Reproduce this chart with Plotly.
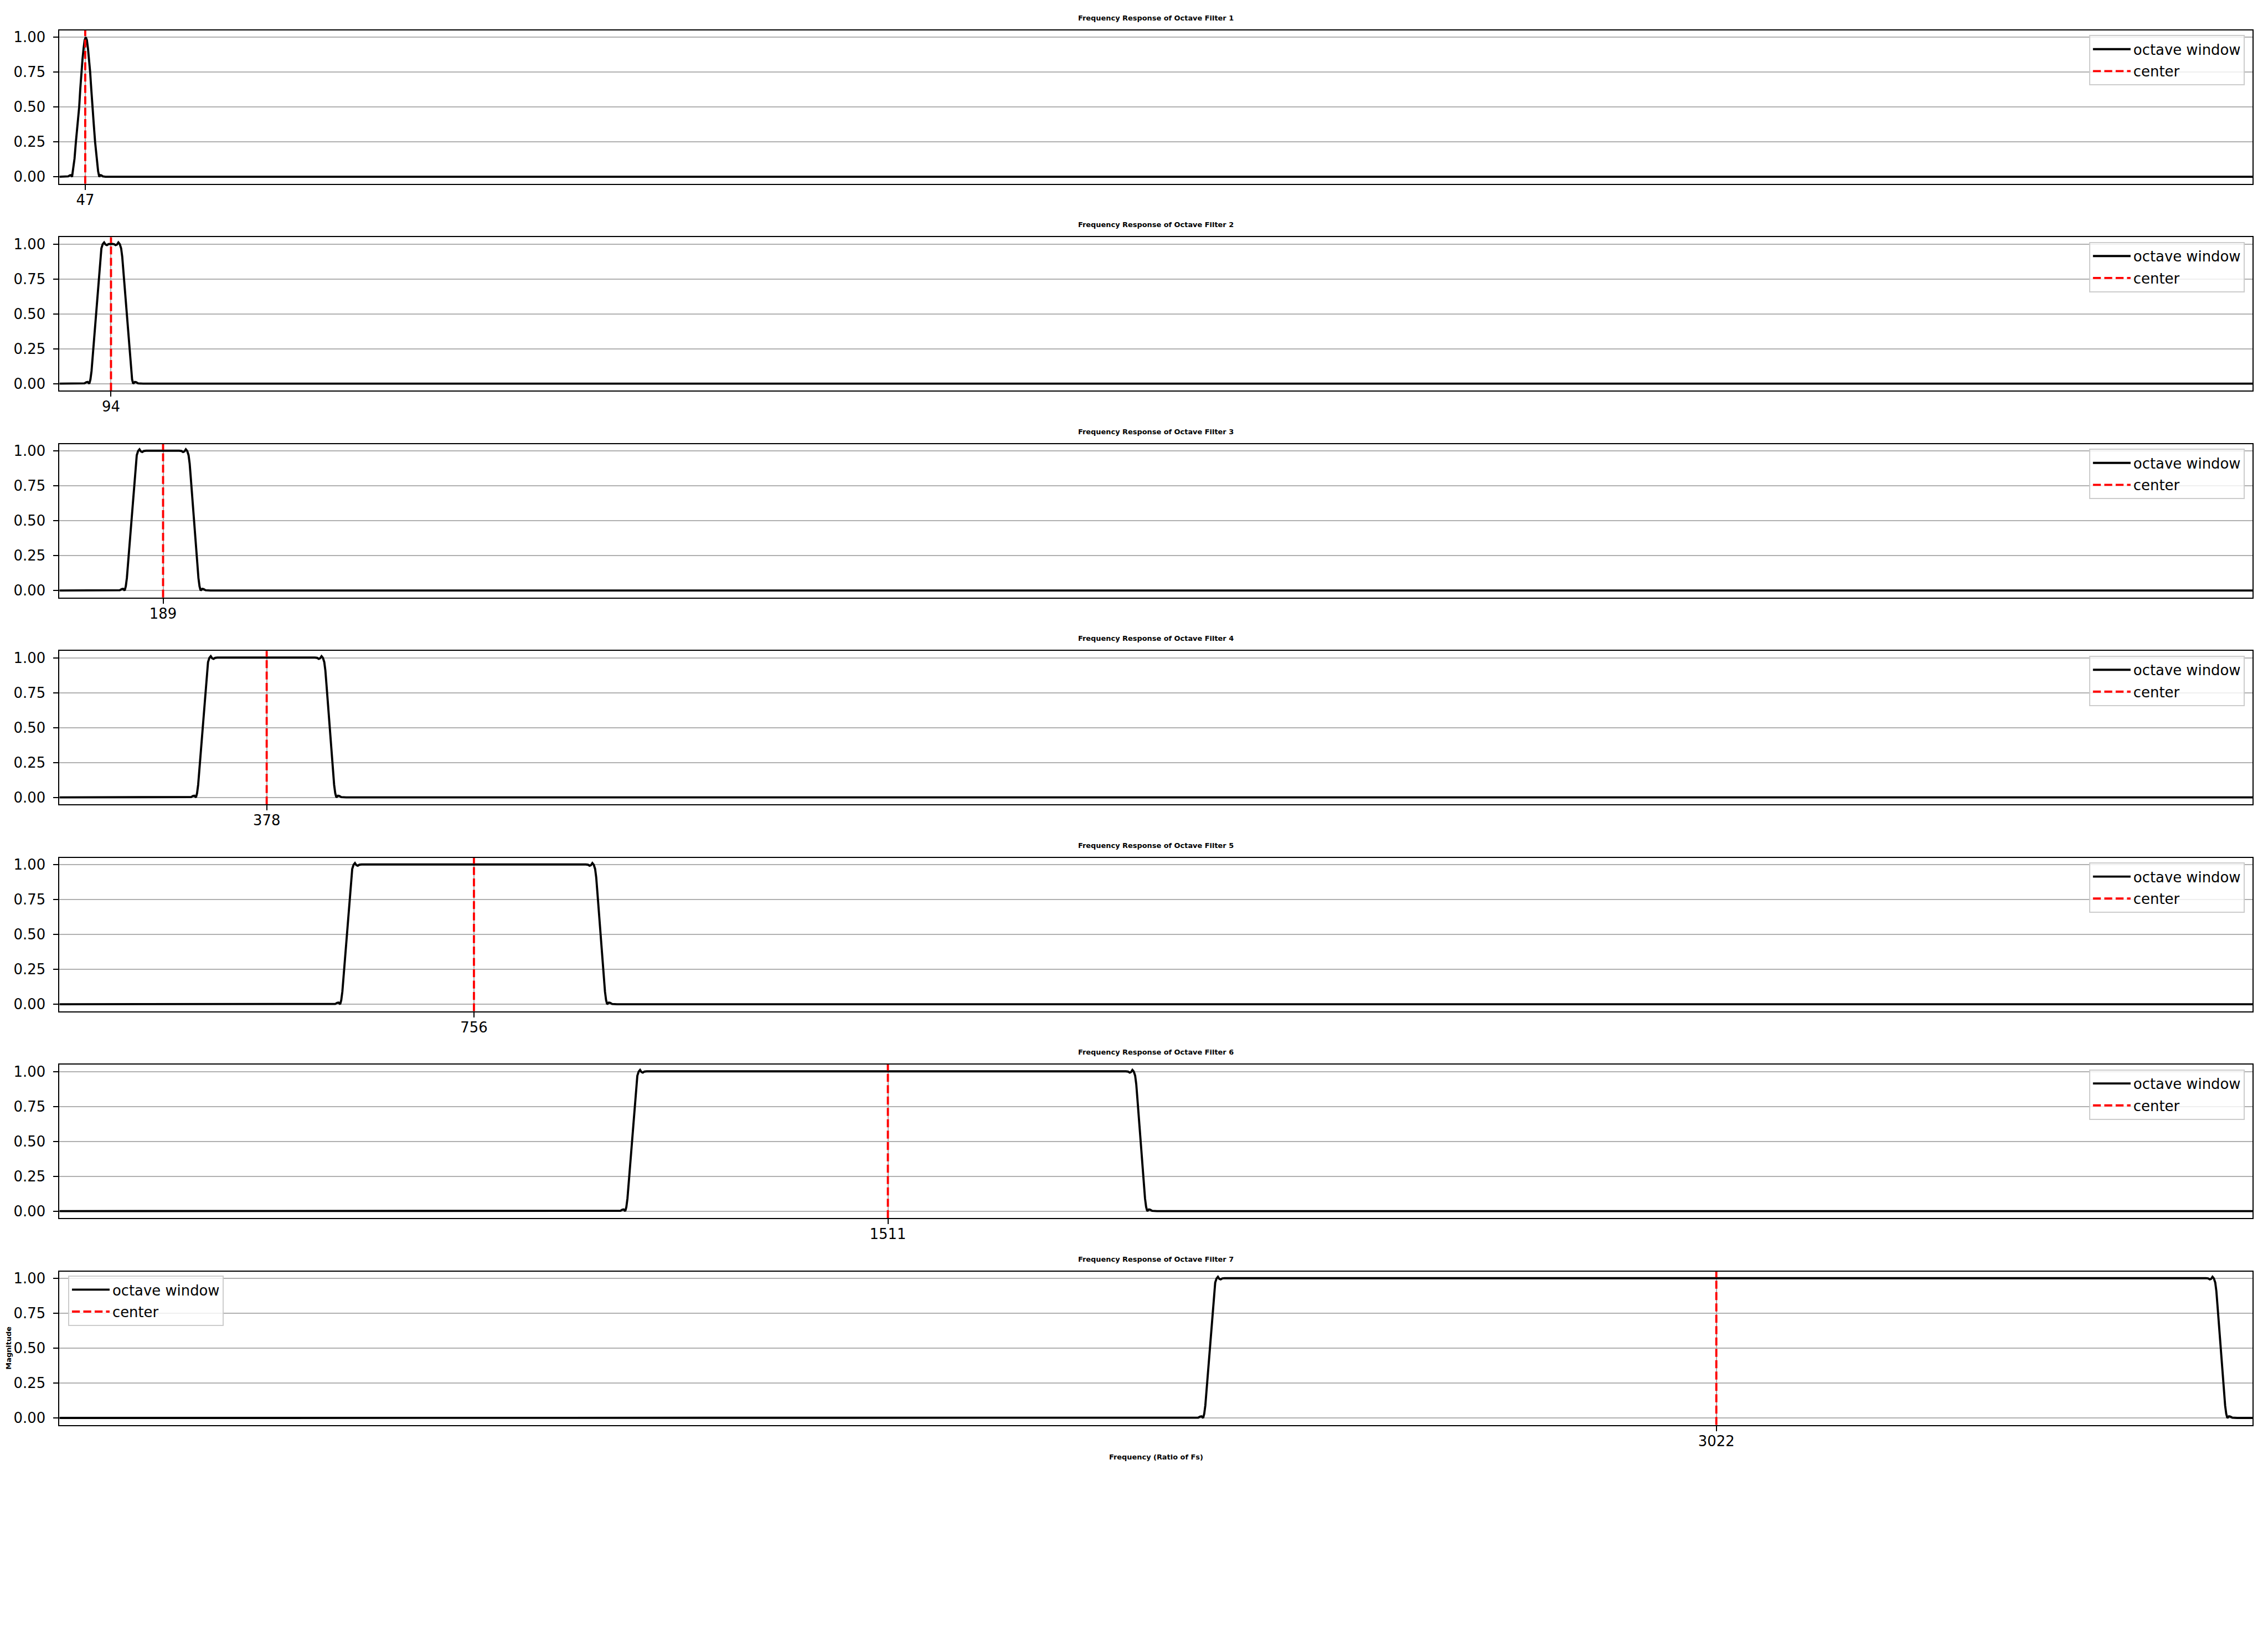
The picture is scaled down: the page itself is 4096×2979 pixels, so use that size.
import plotly.graph_objects as go

# ---------------- data ----------------
CENTERS = [47, 94, 189, 378, 756, 1511, 3022]
TICK_LABELS = ["47", "94", "189", "378", "756", "1511", "3022"]
TITLES = ["Frequency Response of Octave Filter %d" % i for i in range(1, 8)]
X_MAX = 4000

# filter 1 is a single narrow hump: explicit points
F1_X = [0, 12, 16, 19, 21, 23, 25, 27.5, 30, 33, 36, 38, 40, 42, 44, 46, 48,
        50, 52, 54, 56, 58, 60, 62.5, 65, 68, 70.5, 72.6, 74.5, 76.5, 79, 84, 4000]
F1_Y = [0.0, 0.0, 0.003, 0.010, 0.012, 0.0, 0.05, 0.13, 0.25, 0.38, 0.50, 0.63,
        0.75, 0.84, 0.92, 0.98, 1.0, 0.98, 0.92, 0.84, 0.75, 0.63, 0.50, 0.38,
        0.25, 0.12, 0.04, 0.0, 0.012, 0.010, 0.003, 0.0, 0.0]

# half-amplitude band edges of filters 2..7 (Hz)
PASS_LO = [66.5, 131, 261, 524, 1044, 2098]
PASS_HI = [122.5, 245.5, 493, 987, 1972, 3942]

# shape of a rising edge, offsets relative to the half-amplitude point
EDGE_OFFSETS = [-30, -21, -17.5, -15, -12, -10, -8, -6, -4, -2, 0, 2, 4, 6, 8,
                10, 12.5, 15, 17.5, 20, 23, 27]
EDGE_VALUES = [0.0, 0.002, 0.010, 0.012, 0.0, 0.03, 0.09, 0.19, 0.30, 0.40,
               0.50, 0.60, 0.70, 0.81, 0.91, 0.97, 1.0, 1.012, 0.997, 0.993,
               1.0, 1.002]

LEGEND_NAMES = ["octave window", "center"]

# ---------------- layout constants ----------------
W, H = 4096, 2979
S = W / 6600.0
FW, FH = 6600.0, 4800.0
AX_L, AX_R = 173.0, 6555.0
TOP0, STEP, PH = 85.0, 602.6, 447.0

FONT = "DejaVu Sans"
TICK_FS = 41.67 * S
SMALL_FS = 20.83 * S
LW = 6.25 * S
AXLW = 3.33 * S
TICKLEN = 14.6 * S

xd = [AX_L / FW, AX_R / FW]


def panel_y(k):
    top = TOP0 + STEP * k
    return [1 - (top + PH) / FH, 1 - top / FH]


def build_curve(lo, hi):
    mid = 0.5 * (lo + hi)
    xs, ys = [0.0], [0.0]
    for o, v in zip(EDGE_OFFSETS, EDGE_VALUES):
        x = lo + o
        if x < mid:
            xs.append(x)
            ys.append(v)
    for o, v in reversed(list(zip(EDGE_OFFSETS, EDGE_VALUES))):
        x = hi - o
        if x > mid:
            xs.append(x)
            ys.append(v)
    xs.append(X_MAX)
    ys.append(0.0)
    return xs, ys


fig = go.Figure()
layout = dict(
    width=W, height=H,
    margin=dict(l=0, r=0, t=0, b=0),
    paper_bgcolor="white", plot_bgcolor="white",
    font=dict(family=FONT, color="black", size=TICK_FS),
    annotations=[],
)

for k in range(7):
    n = k + 1
    xa = "x" if n == 1 else "x%d" % n
    ya = "y" if n == 1 else "y%d" % n
    lg = "legend" if n == 1 else "legend%d" % n
    if k == 0:
        cx, cy = F1_X, F1_Y
    else:
        cx, cy = build_curve(PASS_LO[k - 1], PASS_HI[k - 1])
    c = CENTERS[k]
    fig.add_trace(go.Scatter(
        x=cx, y=cy, mode="lines", name=LEGEND_NAMES[0], legendgroup="win%d" % n,
        line=dict(color="black", width=LW), xaxis=xa, yaxis=ya, legend=lg,
        hoverinfo="skip"))
    fig.add_trace(go.Scatter(
        x=[c, c], y=[-0.05, 1.05], mode="lines", name=LEGEND_NAMES[1],
        legendgroup="ctr%d" % n,
        line=dict(color="red", width=LW, dash="%.1fpx,%.1fpx" % (23.1 * S, 10 * S)),
        xaxis=xa, yaxis=ya, legend=lg, hoverinfo="skip"))

    yd = panel_y(k)
    common = dict(
        showline=True, mirror=True, linecolor="black", linewidth=AXLW,
        ticks="outside", ticklen=TICKLEN, tickwidth=AXLW, tickcolor="black",
        showgrid=True, gridcolor="#b0b0b0", gridwidth=AXLW, zeroline=False,
        tickfont=dict(family=FONT, size=TICK_FS, color="black"),
    )
    layout["xaxis" if n == 1 else "xaxis%d" % n] = dict(
        domain=xd, anchor=ya, range=[0, X_MAX], tickmode="array",
        tickvals=[c], ticktext=[TICK_LABELS[k]], ticklabelstandoff=-4, **common)
    layout["yaxis" if n == 1 else "yaxis%d" % n] = dict(
        domain=yd, anchor=xa, range=[-0.05, 1.05], tickmode="array",
        tickvals=[0, 0.25, 0.5, 0.75, 1.0], tickformat=".2f",
        ticklabelstandoff=int(round(14.6 * S)), **common)

    # title
    layout["annotations"].append(dict(
        text=TITLES[k], x=(xd[0] + xd[1]) / 2, y=yd[1], xref="paper", yref="paper",
        xanchor="center", yanchor="middle", yshift=36 * S, showarrow=False,
        font=dict(family=FONT, size=SMALL_FS, color="black", weight="bold")))

    # legend
    leg = dict(
        bgcolor="rgba(255,255,255,0.8)", bordercolor="#cccccc", borderwidth=AXLW,
        font=dict(family=FONT, size=TICK_FS, color="black"),
        tracegroupgap=3, itemwidth=68, yanchor="top", xref="paper", yref="paper",
    )
    top = TOP0 + STEP * k
    if n < 7:
        leg.update(x=6532 / FW, xanchor="right", y=1 - (top + 14) / FH)
    else:
        leg.update(x=198 / FW, xanchor="left", y=1 - (top + 12) / FH)
    layout[lg] = leg

# axis labels
yd7 = panel_y(6)
layout["annotations"].append(dict(
    text="Frequency (Ratio of Fs)", x=(xd[0] + xd[1]) / 2, y=yd7[0],
    xref="paper", yref="paper", xanchor="center", yanchor="middle",
    yshift=-92.6 * S, showarrow=False,
    font=dict(family=FONT, size=SMALL_FS, color="black", weight="bold")))
layout["annotations"].append(dict(
    text="Magnitude", x=25 / FW, y=(yd7[0] + yd7[1]) / 2,
    xref="paper", yref="paper", xanchor="center", yanchor="middle",
    textangle=-90, showarrow=False,
    font=dict(family=FONT, size=SMALL_FS, color="black", weight="bold")))

fig.update_layout(**layout)
fig.write_html("out.html")
